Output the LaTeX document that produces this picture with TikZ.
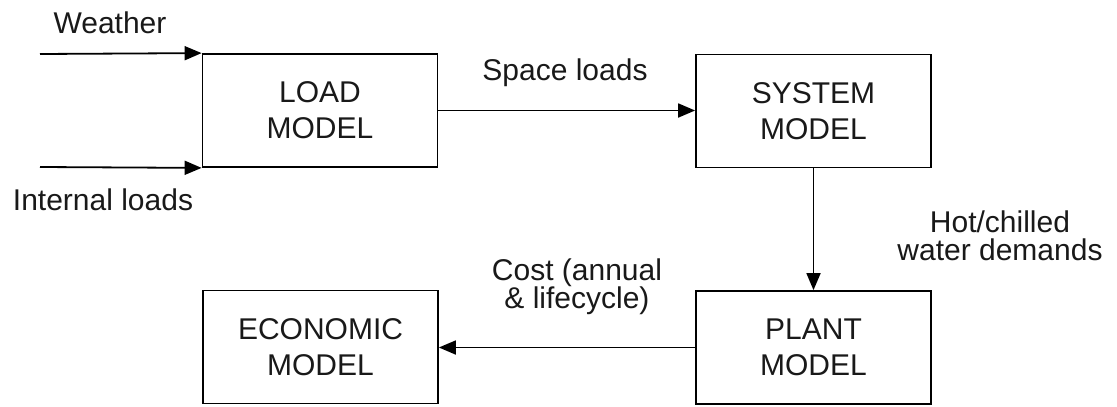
\documentclass[tikz,border=0pt]{standalone}
\usepackage{fontspec}
\setmainfont{Liberation Sans}
\usetikzlibrary{arrows.meta}
\tikzset{
  box/.style={draw=black, line width=1.8pt, rectangle, minimum width=235pt, minimum height=113pt, inner sep=0pt, align=center, font={\fontsize{30}{36}\selectfont}, text=black!90},
  lbl/.style={align=center, inner sep=0pt, font={\fontsize{30}{28}\selectfont}, text=black!90},
  conn/.style={draw=black, line width=1.8pt, -{Triangle[length=17pt,width=14pt]}}
}
\begin{document}
\begin{tikzpicture}[x=1pt,y=-1pt]
\useasboundingbox (0,0) rectangle (1117,407);
\node[box] (load) at (320,110.5) {LOAD\\MODEL};
\node[box] (system) at (813.5,111) {SYSTEM\\MODEL};
\node[box] (plant) at (813.5,347.5) {PLANT\\MODEL};
\node[box] (econ) at (320.5,347) {ECONOMIC\\MODEL};
\coordinate (win) at (40,54);
\coordinate (iin) at (40,167);
\draw[conn] (win) -- (load.north west);
\draw[conn] (iin) -- (load.south west);
\draw[conn] (load.east) -- (system.west |- load.east);
\draw[conn] (system.south) -- (plant.north);
\draw[conn] (plant.west) -- (econ.east |- plant.west);
\node[lbl] (wlbl) at (110,23) {Weather};
\node[lbl] (ilbl) at (103,200) {Internal loads};
\node[lbl] (slbl) at (565,73) {Space loads};
\node[lbl] (hlbl) at (1000,236) {Hot/chilled\\water demands};
\node[lbl] (clbl) at (577,287) {Cost (annual\\\& lifecycle)};
\end{tikzpicture}
\end{document}
